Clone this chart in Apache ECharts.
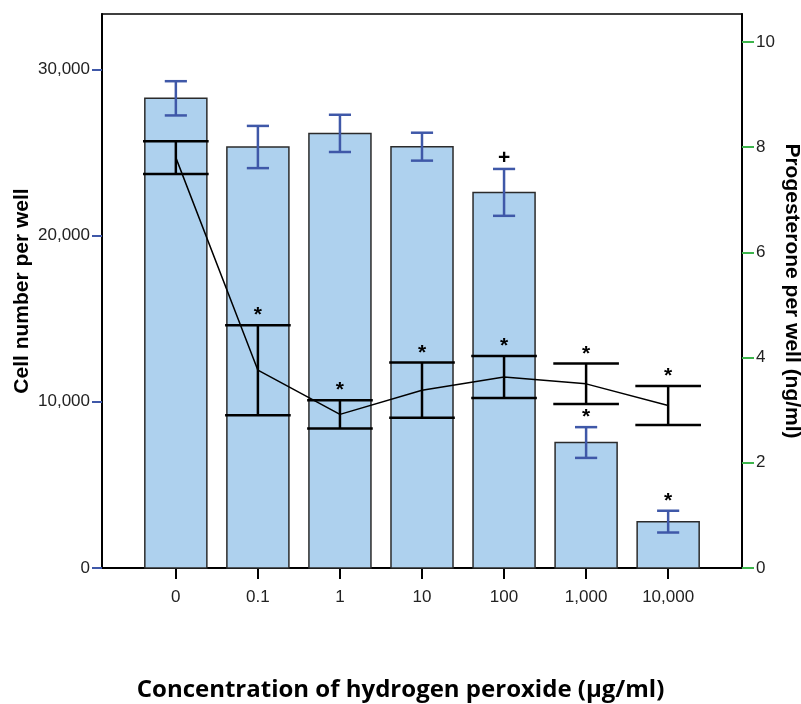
<!DOCTYPE html>
<html>
<head>
<meta charset="utf-8">
<script src="https://cdn.jsdelivr.net/npm/echarts@6/dist/echarts.min.js"></script>
<style>
  html, body { margin: 0; padding: 0; background: #fff; }
  #chart { width: 801px; height: 704px; }
</style>
</head>
<body>
<div id="chart"></div>
<script>
// Hydrogen peroxide concentrations (µg/ml)
const categories = ['0', '0.1', '1', '10', '100', '1,000', '10,000'];

// Cell number per well: mean and error
const cellMean = [28260, 25330, 26150, 25350, 22600, 7550, 2790];
const cellErr  = [1030, 1270, 1120, 840, 1410, 925, 655];
const cellMarks = ['', '', '', '', '+', '*', '*'];

// Progesterone per well (ng/ml): mean and error
const progMean = [7.80, 3.76, 2.92, 3.38, 3.63, 3.50, 3.09];
const progErr  = [0.31, 0.855, 0.27, 0.525, 0.40, 0.385, 0.37];
const progMarks = ['', '*', '*', '*', '*', '*', '*'];

// Axis tick values
const leftTicks  = [0, 10000, 20000, 30000];
const rightTicks = [0, 2, 4, 6, 8, 10];
const catIndex = categories.map((_, i) => i);

const FONT = '"Liberation Sans", Arial, sans-serif';
const BAR_FILL = '#aed1ee';
const BLUE = '#3f58a8';
const GREEN = '#3cb44b';

function errorBarItem(capFrac, color, marks) {
  return function (params, api) {
    const x = api.value(0), m = api.value(1), e = api.value(2);
    const top = api.coord([x, m + e]);
    const bot = api.coord([x, m - e]);
    const hw = api.size([capFrac, 0])[0] / 2;
    const style = { stroke: color, lineWidth: 2.5 };
    const children = [
      { type: 'line', shape: { x1: top[0], y1: top[1], x2: bot[0], y2: bot[1] }, style },
      { type: 'line', shape: { x1: top[0] - hw, y1: top[1], x2: top[0] + hw, y2: top[1] }, style },
      { type: 'line', shape: { x1: bot[0] - hw, y1: bot[1], x2: bot[0] + hw, y2: bot[1] }, style }
    ];
    const mark = marks[params.dataIndex];
    if (mark) {
      children.push({
        type: 'text',
        style: {
          text: mark, x: top[0], y: top[1] + (mark === '*' ? 1 : 0),
          align: 'center', verticalAlign: 'bottom',
          font: 'bold 21px ' + FONT, fill: '#000'
        }
      });
    }
    return { type: 'group', children };
  };
}

const chart = echarts.init(document.getElementById('chart'), null, { renderer: 'canvas' });

chart.setOption({
  animation: false,
  backgroundColor: '#fff',
  title: {
    text: 'Concentration of hydrogen peroxide (µg/ml)',
    left: 'center',
    top: 673,
    textStyle: { fontFamily: '"Open Sans", "Noto Sans", sans-serif', fontWeight: 'bold', fontSize: 24, color: '#000' }
  },
  grid: {
    left: 102, right: 59, top: 14, bottom: 136,
    containLabel: false, outerBoundsMode: 'none',
    show: true, borderColor: '#000', borderWidth: 1.5, backgroundColor: 'transparent'
  },
  xAxis: {
    type: 'value',
    min: -0.9, max: 6.9,
    splitLine: { show: false },
    axisLine: { show: true, onZero: false, lineStyle: { color: '#000', width: 2 } },
    axisTick: { show: true, customValues: catIndex, length: 11, lineStyle: { color: '#000', width: 2 } },
    axisLabel: {
      customValues: catIndex,
      formatter: v => categories[Math.round(v)],
      margin: 21, fontFamily: FONT, fontSize: 17, color: '#222'
    }
  },
  yAxis: [
    {
      type: 'value', position: 'left',
      min: 0, max: 33333,
      name: 'Cell number per well',
      nameLocation: 'middle', nameGap: 69, nameMoveOverlap: false,
      nameTextStyle: { fontFamily: FONT, fontWeight: 'bold', fontSize: 21, color: '#000' },
      splitLine: { show: false },
      axisLine: { show: true, onZero: false, lineStyle: { color: '#000', width: 2 } },
      axisTick: { show: true, customValues: leftTicks, length: 10, lineStyle: { color: BLUE, width: 2 } },
      axisLabel: {
        customValues: leftTicks,
        formatter: v => v.toLocaleString('en-US'),
        margin: 12, fontFamily: FONT, fontSize: 17, color: '#222'
      }
    },
    {
      type: 'value', position: 'right',
      min: 0, max: 10.53,
      name: 'Progesterone per well (ng/ml)',
      nameLocation: 'middle', nameGap: 39, nameRotate: -90, nameMoveOverlap: false,
      nameTextStyle: { fontFamily: FONT, fontWeight: 'bold', fontSize: 21, color: '#000' },
      splitLine: { show: false },
      axisLine: { show: true, onZero: false, lineStyle: { color: '#000', width: 2 } },
      axisTick: { show: true, customValues: rightTicks, length: 12, lineStyle: { color: GREEN, width: 2 } },
      axisLabel: {
        customValues: rightTicks,
        margin: 14, fontFamily: FONT, fontSize: 17, color: '#222'
      }
    }
  ],
  series: [
    {
      // Cell number bars
      type: 'custom', yAxisIndex: 0, z: 1,
      data: cellMean.map((v, i) => [i, v]),
      renderItem: function (params, api) {
        const x = api.value(0), v = api.value(1);
        const base = api.coord([x, 0]);
        const top = api.coord([x, v]);
        const w = api.size([0.756, 0])[0];
        return {
          type: 'rect',
          shape: { x: base[0] - w / 2, y: top[1], width: w, height: base[1] - top[1] },
          style: { fill: BAR_FILL, stroke: '#2b2b2b', lineWidth: 1.5 }
        };
      }
    },
    {
      // Cell number error bars
      type: 'custom', yAxisIndex: 0, z: 2,
      data: cellMean.map((v, i) => [i, v, cellErr[i]]),
      renderItem: errorBarItem(0.27, BLUE, cellMarks)
    },
    {
      // Progesterone mean line
      type: 'line', yAxisIndex: 1, z: 3,
      data: progMean.map((v, i) => [i, v]),
      symbol: 'none',
      lineStyle: { color: '#000', width: 1.5 }
    },
    {
      // Progesterone error bars
      type: 'custom', yAxisIndex: 1, z: 4,
      data: progMean.map((v, i) => [i, v, progErr[i]]),
      renderItem: errorBarItem(0.8, '#000', progMarks)
    }
  ]
});
</script>
</body>
</html>
